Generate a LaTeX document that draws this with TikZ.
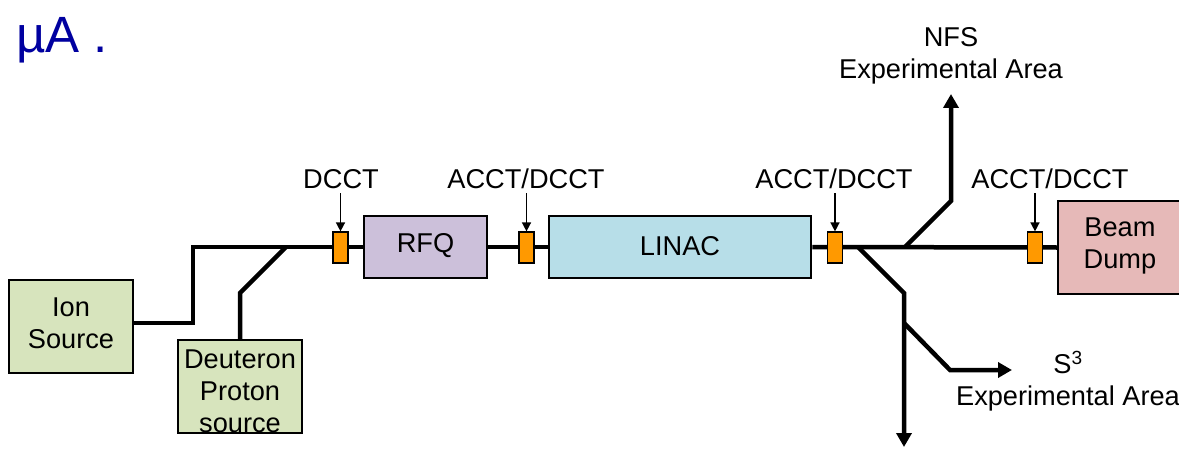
\documentclass[tikz,border=0pt]{standalone}
\usepackage{fontspec}
\setmainfont{Liberation Sans}
\usetikzlibrary{arrows.meta}
\definecolor{ionfill}{RGB}{215,228,189}
\definecolor{rfqfill}{RGB}{204,192,218}
\definecolor{linacfill}{RGB}{183,222,232}
\definecolor{dumpfill}{RGB}{230,185,184}
\definecolor{ctorange}{RGB}{255,153,0}
\definecolor{titleblue}{RGB}{0,0,160}
\begin{document}
\begin{tikzpicture}[x=1pt,y=-1pt,
  box/.style={draw=black, line width=2.5pt, inner sep=0pt},
  ctbox/.style={draw=black, fill=ctorange, line width=1.2pt,
    minimum width=15pt, minimum height=31pt, inner sep=0pt},
  beam/.style={line width=4.5pt},
  lab/.style={inner sep=0pt, align=center, font=\fontsize{27.2}{32}\selectfont},
  probe/.style={line width=1.5pt, -{Triangle[length=9pt,width=9pt]}},
  bigtip/.style={-{Triangle[length=14pt,width=15pt]}}
]
\clip (0,0) rectangle (1179,452);
\fill[white] (0,0) rectangle (1179,452);

% title fragment
\node[anchor=base west, inner sep=0pt, text=titleblue,
  font=\fontsize{51}{60}\selectfont] (title) at (16,53) {µA .};

% boxes
\node[box, fill=ionfill, minimum width=124pt, minimum height=93pt] (ion) at (71,326.5) {};
\node[box, fill=ionfill, minimum width=124pt, minimum height=93pt] (deut) at (240,386.5) {};
\node[box, fill=rfqfill, minimum width=123pt, minimum height=62pt] (rfq) at (425.5,247) {};
\node[box, fill=linacfill, minimum width=262pt, minimum height=62pt] (linac) at (680,247) {};
\node[box, fill=dumpfill, minimum width=124pt, minimum height=93pt] (dump) at (1120,247.5) {};

\node[lab] (iontxt) at (71,323) {Ion\\Source};
\node[lab] (deuttxt) at (240,391) {Deuteron\\Proton\\source};
\node[lab] (rfqtxt) at (425.5,246) {RFQ};
\node[lab] (linactxt) at (680,246) {LINAC};
\node[lab] (dumptxt) at (1120,246) {Beam\\Dump};

% junction coordinates
\coordinate (j1) at (193,323);
\coordinate (j2) at (193,247);
\coordinate (d1) at (240,293);
\coordinate (d2) at (286,247);
\coordinate (s0) at (858,247);
\coordinate (s1) at (904,293);
\coordinate (s2) at (904,323);
\coordinate (s3) at (904,447);
\coordinate (s4) at (950,370);
\coordinate (s5) at (1012,370);
\coordinate (n0) at (905,247);
\coordinate (n1) at (951,201);
\coordinate (n2) at (951,94);

% beam lines
\draw[beam] (ion.east |- j1) -- (j1) -- (j2) -- (rfq.west);
\draw[beam] (deut.north) -- (d1) -- (d2);
\draw[beam] (rfq.east) -- (linac.west);
\draw[beam] (linac.east) -- (dump.west);
\draw[beam, bigtip] (s0) -- (s1) -- (s3);
\draw[beam, bigtip] (s2) -- (s4) -- (s5);
\draw[beam, bigtip] (n0) -- (n1) -- (n2);

% current transformers
\node[ctbox] (ct1) at (340.5,247.5) {};
\node[ctbox] (ct2) at (526.5,247.5) {};
\node[ctbox] (ct3) at (835,247.5) {};
\node[ctbox] (ct4) at (1035,247.5) {};

% labels
\node[lab, anchor=base] (l1) at (341,188) {DCCT};
\node[lab, anchor=base] (l2) at (526,188) {ACCT/DCCT};
\node[lab, anchor=base] (l3) at (834,188) {ACCT/DCCT};
\node[lab, anchor=base] (l4) at (1050,188) {ACCT/DCCT};
\draw[probe] (ct1 |- 0,193) -- (ct1.north);
\draw[probe] (ct2 |- 0,193) -- (ct2.north);
\draw[probe] (ct3 |- 0,193) -- (ct3.north);
\draw[probe] (ct4 |- 0,193) -- (ct4.north);

\node[lab] (nfs) at (951,56) {NFS\\Experimental Area};
\node[lab] (s3lab) at (1068,381) {S\textsuperscript{3}\\Experimental Area};
\end{tikzpicture}
\end{document}
